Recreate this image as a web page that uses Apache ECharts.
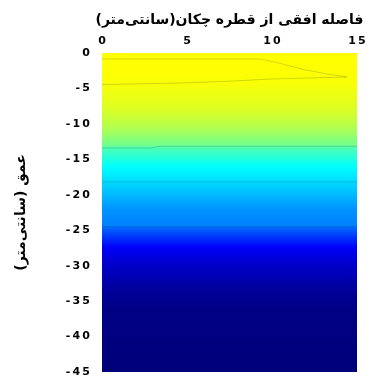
<!DOCTYPE html>
<html>
<head>
<meta charset="utf-8">
<script src="https://cdn.jsdelivr.net/npm/echarts@6/dist/echarts.min.js"></script>
<style>
  html, body { margin: 0; padding: 0; background: #fff; }
  #main { width: 371px; height: 380px; }
</style>
</head>
<body>
<div id="main"></div>
<script>
const xTicks = [0, 5, 10, 15];

// moisture profile (normalised 0..1), by depth
const depths =   [0,     -1,    -4.2, -8,   -10.5, -12.9, -13.4, -16,   -18.2, -22,  -24.4, -24.8, -27.4, -30,   -33,   -36,  -45];
const moisture = [0.625, 0.625, 0.62, 0.59, 0.55,  0.49,  0.45,  0.375, 0.34,  0.27, 0.25,  0.22,  0.12,  0.075, 0.035, 0.01, 0];

// contour lines [x, depth]
const contourA = [[0, -0.85], [9.3, -0.85], [10.2, -1.3], [11.8, -2.3], [13.2, -2.95], [14.4, -3.38]];
const contourB = [[0, -4.45], [4.4, -4.25], [7.3, -4.0], [9.9, -3.67], [12.8, -3.48], [14.4, -3.38]];
const contourC = [[0, -13.4], [2.8, -13.4], [3.5, -13.15], [15, -13.15]];
const contourD = [[0, -18.2], [15, -18.2]];
const contourE = [[0, -24.5], [15, -24.5]];

// jet-like colormap
const cmap = [[0, [0, 0, 122]], [0.125, [0, 0, 255]], [0.375, [0, 255, 255]], [0.625, [255, 255, 0]]];
function colorOf(t) {
  for (let i = 1; i < cmap.length; i++) {
    if (t <= cmap[i][0]) {
      const a = cmap[i - 1], b = cmap[i];
      const f = (t - a[0]) / (b[0] - a[0]);
      const c = a[1].map((v, k) => Math.round(v + (b[1][k] - v) * f));
      return 'rgb(' + c.join(',') + ')';
    }
  }
  return 'rgb(' + cmap[cmap.length - 1][1].join(',') + ')';
}

const dTop = depths[0], dBot = depths[depths.length - 1];
const field = [[xTicks[0], xTicks[xTicks.length - 1], dTop, dBot]];
const stops = depths.map((d, i) => ({ offset: (dTop - d) / (dTop - dBot), color: colorOf(moisture[i]) }));

const tickFont = { fontFamily: 'DejaVu Sans', fontWeight: 'bold', fontSize: 11, color: '#000' };
const spaced = v => String(v).split('').join('\u2009');
const nameFont = { fontFamily: 'DejaVu Sans', fontWeight: 'bold', color: '#000' };

const chart = echarts.init(document.getElementById('main'));
const contour = data => ({
  type: 'line', data: data, showSymbol: false, silent: true,
  lineStyle: { color: 'rgba(0,0,0,0.16)', width: 1 }, z: 3
});

chart.setOption({
  animation: false,
  grid: { left: 102, right: 14, top: 53, bottom: 8 },
  xAxis: {
    type: 'value', position: 'top', min: 0, max: 15, interval: 5,
    name: 'فاصله افقی از قطره چکان(سانتی‌متر)',
    nameLocation: 'middle', nameGap: 26,
    nameTextStyle: Object.assign({ fontSize: 14 }, nameFont),
    axisLine: { show: false }, axisTick: { show: false }, splitLine: { show: false },
    axisLabel: Object.assign({ margin: 6, formatter: spaced }, tickFont)
  },
  yAxis: {
    type: 'value', min: -45, max: 0, interval: 5,
    name: 'عمق (سانتی‌متر)',
    nameLocation: 'middle', nameGap: 74, nameRotate: 90,
    nameTextStyle: Object.assign({ fontSize: 14 }, nameFont),
    axisLine: { show: false }, axisTick: { show: false }, splitLine: { show: false },
    axisLabel: Object.assign({ margin: 12, formatter: spaced }, tickFont)
  },
  series: [
    {
      type: 'custom', silent: true, z: 1,
      encode: { x: [0, 1], y: [2, 3] },
      data: field,
      renderItem: function (params, api) {
        const p0 = api.coord([api.value(0), api.value(2)]);
        const p1 = api.coord([api.value(1), api.value(3)]);
        return {
          type: 'rect',
          shape: { x: p0[0], y: p0[1], width: p1[0] - p0[0], height: p1[1] - p0[1] },
          style: { fill: new echarts.graphic.LinearGradient(0, 0, 0, 1, stops) }
        };
      }
    },
    contour(contourA),
    contour(contourB),
    contour(contourC),
    contour(contourD),
    contour(contourE)
  ]
});
</script>
</body>
</html>
